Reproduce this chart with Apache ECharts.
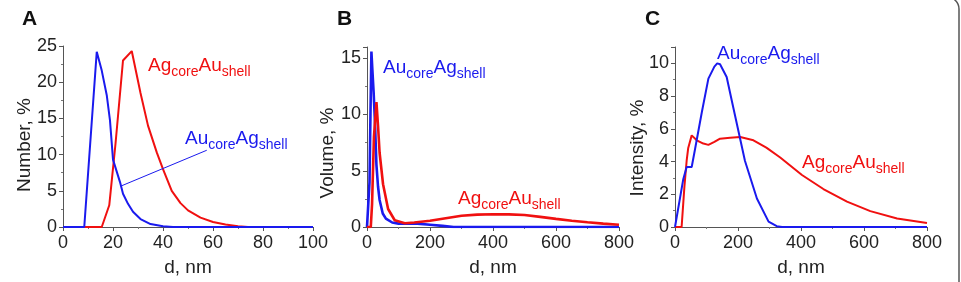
<!DOCTYPE html>
<html>
<head>
    <meta charset="UTF-8">
    <title>Size distributions</title>
    <script src="https://cdn.jsdelivr.net/npm/echarts@6/dist/echarts.min.js"></script>
</head>
<body style="margin: 0;background: #fff;">
<div id="chart" style="width: 961px;height: 282px;"></div>
<script>
    // panel A - number distribution
    var dA_blue = [0, 8.5, 13.5, 15.5, 17.5, 18.8, 20, 22.8, 24, 26, 28, 31, 35, 40, 44, 100];
    var numA_blue = [0, 0, 24.2, 21.6, 18.2, 14.7, 9.3, 6.2, 4.6, 3.2, 2.1, 1.1, 0.4, 0.1, 0, 0];
    var dA_red = [0, 15.5, 18.5, 21, 24, 27.5, 31, 34, 37.5, 40, 43.5, 47, 50, 55, 60, 65, 70, 74, 100];
    var numA_red = [0, 0, 3, 11.5, 23, 24.3, 18.5, 14, 10.3, 8, 5, 3.3, 2.3, 1.3, 0.7, 0.35, 0.1, 0, 0];
    var pointerA_d = [57.5, 23.5];
    var pointerA_v = [10.6, 5.7];

    // panel B - volume distribution
    var dB_blue = [0, 5, 8, 11, 14, 17, 21, 25, 30, 35, 40, 50, 60, 80, 100, 130, 160, 200, 240, 275, 800];
    var volB_blue = [0, 0, 4, 10, 15.6, 14, 12, 9.5, 5.5, 3.6, 2.4, 1.2, 0.75, 0.4, 0.3, 0.3, 0.3, 0.2, 0.1, 0, 0];
    var dB_red = [0, 12, 16, 22, 30, 35, 40, 51, 67, 88, 120, 150, 200, 250, 300, 350, 400, 450, 500, 550, 600, 650, 700, 750, 800];
    var volB_red = [0, 0, 2, 8, 11.1, 9, 6.6, 3.8, 1.6, 0.6, 0.33, 0.4, 0.55, 0.78, 1.0, 1.1, 1.13, 1.12, 1.06, 0.9, 0.72, 0.56, 0.42, 0.3, 0.2];

    // panel C - intensity distribution
    var dC_blue = [0, 5, 26, 37, 53, 64, 85, 106, 125, 134, 143, 164, 185, 222, 260, 297, 323, 340, 800];
    var intC_blue = [0, 0, 2.9, 3.67, 3.67, 4.8, 7.0, 9.07, 9.8, 10, 9.95, 9.17, 7.3, 4.05, 1.74, 0.33, 0.05, 0, 0];
    var dC_red = [0, 21, 30, 37, 42, 53, 69, 90, 106, 125, 143, 175, 207, 249, 290, 334, 403, 471, 546, 620, 705, 800];
    var intC_red = [0, 0, 2.5, 4.05, 4.83, 5.6, 5.3, 5.1, 5.02, 5.2, 5.4, 5.45, 5.5, 5.3, 4.85, 4.25, 3.18, 2.32, 1.55, 0.97, 0.52, 0.25];

    var RED = '#f01010', BLUE = '#1a1aee', FONT = 'Liberation Sans';

    function pairs(xs, ys) {
        return xs.map(function (x, i) { return [x, ys[i]]; });
    }

    function xAx(idx, max, interval) {
        return {
            gridIndex: idx, type: 'value', min: 0, max: max, interval: interval,
            name: 'd, nm', nameLocation: 'middle', nameGap: 31,
            nameTextStyle: {fontFamily: FONT, fontSize: 19, color: '#222'},
            axisLine: {lineStyle: {color: '#555', width: 1}},
            axisTick: {length: 4, lineStyle: {color: '#555'}},
            minorTick: {show: true, splitNumber: 2, length: 2, lineStyle: {color: '#777'}},
            axisLabel: {fontFamily: FONT, fontSize: 18, color: '#222', margin: 7},
            splitLine: {show: false}
        };
    }

    function yAx(idx, max, interval) {
        return {
            gridIndex: idx, type: 'value', min: 0, max: max, interval: interval,
            axisLine: {show: true, lineStyle: {color: '#555', width: 1}},
            axisTick: {show: true, length: 4, lineStyle: {color: '#555'}},
            minorTick: {show: true, splitNumber: 2, length: 2, lineStyle: {color: '#777'}},
            axisLabel: {fontFamily: FONT, fontSize: 18, color: '#222', margin: 6,
                showMaxLabel: max % interval === 0},
            splitLine: {show: false}
        };
    }

    function line(idx, data, color, width) {
        return {
            type: 'line', xAxisIndex: idx, yAxisIndex: idx, data: data,
            showSymbol: false, symbol: 'none', silent: true, animation: false,
            lineStyle: {color: color, width: width}
        };
    }

    var rich = {
        m: {fontFamily: FONT, fontSize: 19, lineHeight: 22, verticalAlign: 'top'},
        s: {fontFamily: FONT, fontSize: 14, lineHeight: 14, padding: [11, 0, 0, 0]}
    };

    function label(x, y, text, color) {
        return {
            type: 'text', x: x, y: y, silent: true,
            style: {text: text, rich: rich, fill: color, verticalAlign: 'top'}
        };
    }

    function panelLetter(x, text) {
        return {
            type: 'text', x: x, y: 9,
            style: {text: text, fontFamily: FONT, fontSize: 21, fontWeight: 'bold', fill: '#111'}
        };
    }

    function yName(x, y, text) {
        return {
            type: 'text', x: x, y: y, rotation: Math.PI / 2,
            style: {text: text, fontFamily: FONT, fontSize: 19, fill: '#222',
                align: 'center', verticalAlign: 'middle'}
        };
    }

    var AgAu = '{m|Ag}{s|core}{m|Au}{s|shell}';
    var AuAg = '{m|Au}{s|core}{m|Ag}{s|shell}';

    var chart = echarts.init(document.getElementById('chart'), null, {renderer: 'canvas'});
    chart.setOption({
        backgroundColor: '#fff',
        animation: false,
        grid: [
            {left: 63, right: 648, top: 46, bottom: 49},
            {left: 367, right: 342, top: 47, bottom: 46},
            {left: 675, right: 34, top: 47, bottom: 45}
        ],
        xAxis: [xAx(0, 100, 20), xAx(1, 800, 200), xAx(2, 800, 200)],
        yAxis: [yAx(0, 25, 5), yAx(1, 16, 5), yAx(2, 11, 2)],
        series: [
            line(0, pairs(dA_red, numA_red), RED, 2),
            line(0, pairs(dA_blue, numA_blue), BLUE, 2),
            line(0, pairs(pointerA_d, pointerA_v), BLUE, 1),
            line(1, pairs(dB_blue, volB_blue), BLUE, 2.6),
            line(1, pairs(dB_red, volB_red), RED, 2.6),
            line(2, pairs(dC_red, intC_red), RED, 2),
            line(2, pairs(dC_blue, intC_blue), BLUE, 2)
        ],
        graphic: [
            {
                type: 'rect', silent: true,
                shape: {x: -12, y: -3, width: 971, height: 300, r: 12},
                style: {fill: 'none', stroke: '#555', lineWidth: 1.5}
            },
            panelLetter(22, 'A'),
            panelLetter(337, 'B'),
            panelLetter(645, 'C'),
            yName(25, 145, 'Number, %'),
            yName(328, 153, 'Volume, %'),
            yName(638, 148, 'Intensity, %'),
            label(148, 56, AgAu, RED),
            label(185, 129, AuAg, BLUE),
            label(383, 58, AuAg, BLUE),
            label(458, 189, AgAu, RED),
            label(717, 44, AuAg, BLUE),
            label(802, 153, AgAu, RED)
        ]
    });
</script>
</body>
</html>
